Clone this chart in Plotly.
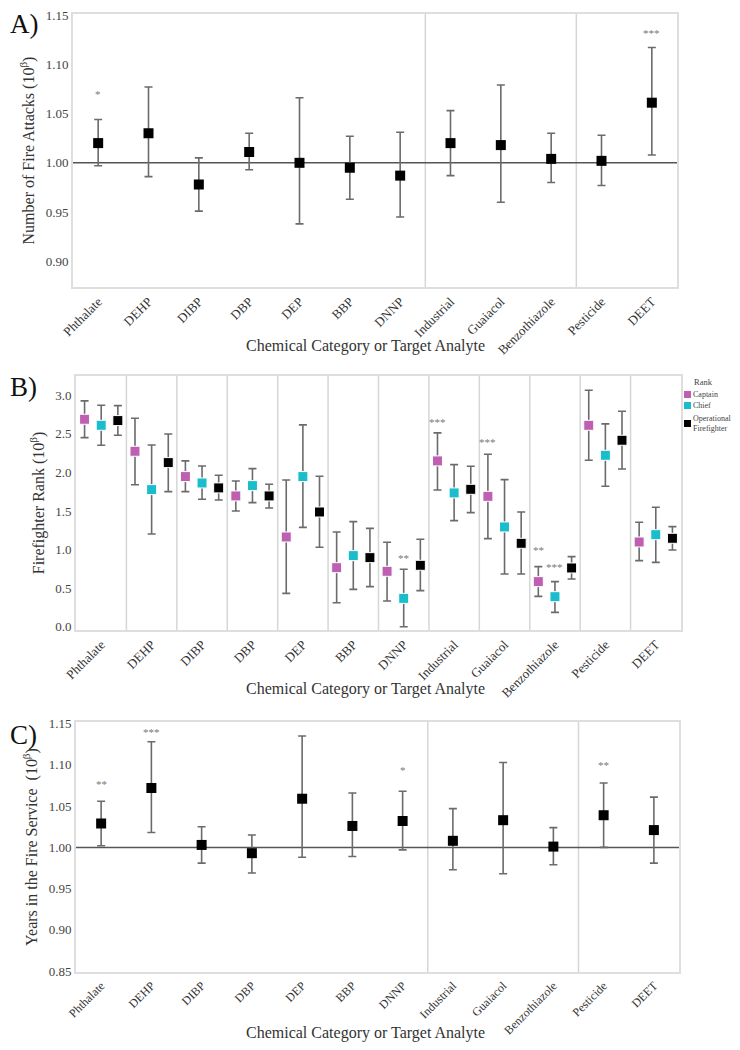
import plotly.graph_objects as go

categories = ["Phthalate", "DEHP", "DIBP", "DBP", "DEP", "BBP", "DNNP",
              "Industrial", "Guaiacol", "Benzothiazole", "Pesticide", "DEET"]

# A) Number of fire attacks
a_est = [1.020, 1.030, 0.978, 1.011, 1.000, 0.995, 0.987, 1.020, 1.018, 1.004, 1.002, 1.061]
a_hi = [1.044, 1.077, 1.005, 1.030, 1.066, 1.027, 1.031, 1.053, 1.079, 1.030, 1.028, 1.117]
a_lo = [0.997, 0.986, 0.951, 0.993, 0.938, 0.963, 0.945, 0.987, 0.960, 0.980, 0.977, 1.008]
a_sig = ["*", "", "", "", "", "", "", "", "", "", "", "***"]
a_sig_y = [1.073, None, None, None, None, None, None, None, None, None, None, 1.135]

# B) Firefighter rank
ranks = ["Captain", "Chief", "Operational<br>Firefighter"]
rank_colors = ["#bf5fb1", "#19bdcc", "#000000"]
captain_est = [2.689, 2.274, 1.946, 1.695, 1.163, 0.765, 0.718, 2.149, 1.690, 0.584, 2.611, 1.098]
captain_hi = [2.927, 2.702, 2.149, 1.889, 1.902, 1.228, 1.094, 2.512, 2.235, 0.778, 3.065, 1.353]
captain_lo = [2.451, 1.840, 1.751, 1.500, 0.432, 0.311, 0.333, 1.773, 1.141, 0.393, 2.157, 0.856]
captain_sig = ["", "", "", "", "", "", "", "***", "***", "**", "", ""]
captain_sig_y = [None, None, None, None, None, None, None, 2.693, 2.430, 1.029, None, None]
chief_est = [2.611, 1.777, 1.863, 1.829, 1.946, 0.921, 0.367, 1.734, 1.293, 0.389, 2.222, 1.193]
chief_hi = [2.871, 2.356, 2.084, 2.049, 2.616, 1.362, 0.744, 2.101, 1.907, 0.584, 2.629, 1.548]
chief_lo = [2.352, 1.202, 1.652, 1.608, 1.288, 0.484, 0.000, 1.375, 0.683, 0.186, 1.820, 0.834]
chief_sig = ["", "", "", "", "", "", "**", "", "", "***", "", ""]
chief_sig_y = [None, None, None, None, None, None, 0.934, None, None, 0.808, None, None]
ff_est = [2.672, 2.127, 1.799, 1.695, 1.487, 0.895, 0.796, 1.781, 1.081, 0.761, 2.417, 1.146]
ff_hi = [2.866, 2.499, 1.963, 1.846, 1.950, 1.275, 1.133, 2.080, 1.487, 0.908, 2.793, 1.297]
ff_lo = [2.482, 1.751, 1.643, 1.539, 1.029, 0.519, 0.467, 1.479, 0.683, 0.618, 2.045, 0.994]

# C) Years in the fire service
c_est = [1.029, 1.072, 1.003, 0.993, 1.059, 1.026, 1.032, 1.008, 1.033, 1.001, 1.039, 1.021]
c_hi = [1.056, 1.128, 1.025, 1.015, 1.135, 1.066, 1.068, 1.047, 1.103, 1.024, 1.078, 1.061]
c_lo = [1.002, 1.018, 0.981, 0.969, 0.988, 0.989, 0.997, 0.973, 0.968, 0.979, 1.000, 0.981]
c_sig = ["**", "***", "", "", "", "", "*", "", "", "", "**", ""]
c_sig_y = [1.081, 1.144, None, None, None, None, 1.0975, None, None, None, 1.103, None]

FONT = "Liberation Serif"
ERR = "#6b6b6b"
FRAME = "#dedede"

# the page body keeps an 8px margin, so the figure is sized to fit inside the window
OFF = 8
W, H = 740 - 2 * OFF, 1050 - 2 * OFF


def fx(p):
    # window pixel -> paper fraction
    return (p - OFF) / W


def fy(p):
    return 1 - (p - OFF) / H


xs = list(range(len(categories)))
fig = go.Figure()


def err(est, hi, lo):
    return dict(type="data", symmetric=False,
                array=[h - e for h, e in zip(hi, est)],
                arrayminus=[e - l for e, l in zip(est, lo)],
                color=ERR, thickness=1.6, width=4)


def stars(x, sig, sig_y, xref, yref):
    for xi, s, sy in zip(x, sig, sig_y):
        if s:
            fig.add_annotation(x=xi, y=sy, xref=xref, yref=yref, text=s,
                               showarrow=False, yshift=-3,
                               font=dict(family=FONT, size=11, color="#777"))


# panel A
fig.add_trace(go.Scatter(x=xs, y=a_est, mode="markers", xaxis="x", yaxis="y",
                         error_y=err(a_est, a_hi, a_lo), showlegend=False,
                         marker=dict(symbol="square", size=10, color="black")))
stars(xs, a_sig, a_sig_y, "x", "y")

# panel B
offsets = [-0.33, 0, 0.33]
series_b = [(captain_est, captain_hi, captain_lo),
            (chief_est, chief_hi, chief_lo),
            (ff_est, ff_hi, ff_lo)]
for name, col, off, (e, h, l) in zip(ranks, rank_colors, offsets, series_b):
    fig.add_trace(go.Scatter(x=[x + off for x in xs], y=e, mode="markers", name=name,
                             xaxis="x2", yaxis="y2", error_y=err(e, h, l), showlegend=False,
                             marker=dict(symbol="square", size=10, color=col,
                                         line=dict(color="white", width=1))))
stars([x + offsets[0] for x in xs], captain_sig, captain_sig_y, "x2", "y2")
stars([x + offsets[1] for x in xs], chief_sig, chief_sig_y, "x2", "y2")

# panel C
fig.add_trace(go.Scatter(x=xs, y=c_est, mode="markers", xaxis="x3", yaxis="y3",
                         error_y=err(c_est, c_hi, c_lo), showlegend=False,
                         marker=dict(symbol="square", size=10, color="black")))
stars(xs, c_sig, c_sig_y, "x3", "y3")

xax = dict(range=[-0.5, 11.5], tickmode="array", tickvals=xs, ticktext=categories,
           tickangle=-45, showgrid=False, zeroline=False, showline=True, mirror=True,
           linecolor=FRAME, linewidth=2, ticks="", automargin=False,
           tickfont=dict(family=FONT, size=13, color="#333"))
yax = dict(showgrid=False, zeroline=False, showline=True, mirror=True,
           linecolor=FRAME, linewidth=2, ticks="", automargin=False,
           ticklabeloverflow="allow",
           tickfont=dict(family=FONT, size=13, color="#444"),
           title_font=dict(family=FONT, size=16, color="#333"), title_standoff=7)

fig.update_layout(
    width=W, height=H, margin=dict(l=0, r=0, t=0, b=0),
    paper_bgcolor="white", plot_bgcolor="white", showlegend=False,
    font=dict(family=FONT, color="#333"),
    xaxis=dict(xax, domain=[fx(73), fx(677)], anchor="y"),
    yaxis=dict(yax, domain=[fy(287), fy(14)], anchor="x", range=[0.874, 1.151],
               tickvals=[0.90, 0.95, 1.00, 1.05, 1.10, 1.15], tickformat=".2f",
               title_text="Number of Fire Attacks (10<sup>β</sup>)"),
    xaxis2=dict(xax, domain=[fx(76), fx(681)], anchor="y2"),
    yaxis2=dict(yax, domain=[fy(630), fy(376)], anchor="x2", range=[-0.043, 3.25],
                tickvals=[0, 0.5, 1, 1.5, 2, 2.5, 3], tickformat=".1f",
                title_text="Firefighter Rank (10<sup>β</sup>)"),
    xaxis3=dict(xax, domain=[fx(76), fx(679)], anchor="y3",
                tickfont=dict(family=FONT, size=12, color="#333")),
    yaxis3=dict(yax, domain=[fy(972), fy(722)], anchor="x3", range=[0.849, 1.152],
                tickvals=[0.85, 0.90, 0.95, 1.00, 1.05, 1.10, 1.15], tickformat=".2f",
                title_text="Years in the Fire Service  (10<sup>β</sup>)"),
)

# separators and reference lines
for xa, ya, seps in [("x", "y", [6.5, 9.5]),
                     ("x2", "y2", [k + 0.5 for k in range(11)]),
                     ("x3", "y3", [6.5, 9.5])]:
    for s in seps:
        fig.add_shape(type="line", xref=xa, yref=ya + " domain", x0=s, x1=s, y0=0, y1=1,
                      line=dict(color="#d6d6d6", width=1.5), layer="below")
for xa, ya in [("x", "y"), ("x3", "y3")]:
    fig.add_shape(type="line", xref=xa + " domain", yref=ya, x0=0, x1=1, y0=1, y1=1,
                  line=dict(color="#555", width=1.5), layer="below")

# rank key beside panel B
fig.add_annotation(x=fx(693), y=fy(382), xref="paper", yref="paper", text="Rank",
                   showarrow=False, xanchor="left", yanchor="middle", borderpad=0,
                   font=dict(family=FONT, size=8.5, color="#444"))
for name, col, ky in zip(ranks, rank_colors, [394, 405, 423]):
    fig.add_shape(type="rect", xref="paper", yref="paper",
                  x0=fx(684), x1=fx(691), y0=fy(ky + 4), y1=fy(ky - 3),
                  fillcolor=col, line=dict(width=0))
    fig.add_annotation(x=fx(692), y=fy(ky), xref="paper", yref="paper", text=name,
                       showarrow=False, xanchor="left", yanchor="middle", align="left",
                       borderpad=0, font=dict(family=FONT, size=8, color="#444"))

# panel letters and x titles
for label, ly in [("A)", 24), ("B)", 387), ("C)", 735)]:
    fig.add_annotation(x=fx(OFF), y=fy(ly), xref="paper", yref="paper", text=label,
                       showarrow=False, xanchor="left", yanchor="middle",
                       font=dict(family=FONT, size=27, color="#111"))
for ty in [346, 689, 1033]:
    fig.add_annotation(x=fx(365), y=fy(ty), xref="paper", yref="paper",
                       text="Chemical Category or Target Analyte", showarrow=False,
                       yanchor="middle", font=dict(family=FONT, size=16, color="#333"))

fig.write_html("out.html")
